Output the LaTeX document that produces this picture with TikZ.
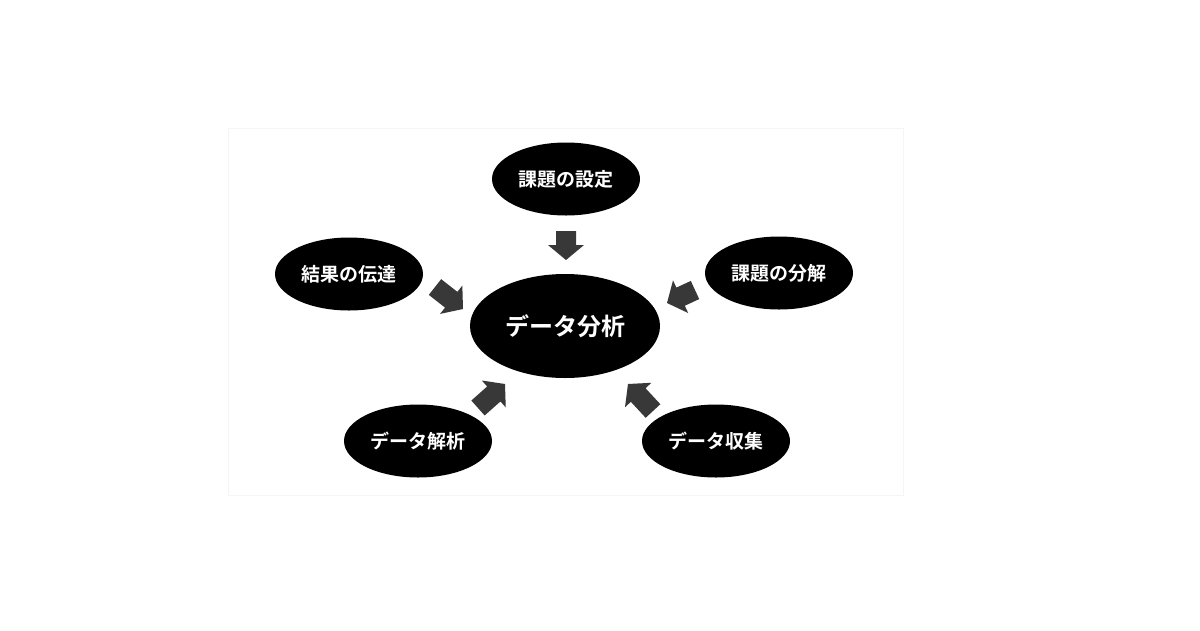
\documentclass[tikz,border=0pt]{standalone}
\usepackage{fontspec}
\newfontfamily\jpfont{Noto Sans CJK JP}[BoldFont={Noto Sans CJK JP Bold}]
\usetikzlibrary{calc,shapes.geometric}
\tikzset{
  bubble/.style={ellipse, fill=black, text=white, inner sep=0pt,
    minimum width=148pt, minimum height=73pt,
    font=\jpfont\bfseries\fontsize{19}{22}\selectfont},
  hub/.style={bubble, minimum width=190pt, minimum height=104pt,
    font=\jpfont\bfseries\fontsize{24}{28}\selectfont},
  arrowfill/.style={fill=black!78, draw=none}
}
\newcommand\blockarrow[3]{% name, tail, tip
  \coordinate (#1h) at ($(#3)!15pt!(#2)$);
  \fill[arrowfill] ($(#2)!10pt!90:(#3)$) -- ($(#1h)!10pt!-90:(#2)$)
    -- ($(#1h)!18pt!-90:(#2)$) -- (#3) -- ($(#1h)!18pt!90:(#2)$)
    -- ($(#1h)!10pt!90:(#2)$) -- ($(#2)!10pt!-90:(#3)$) -- cycle;
}
\begin{document}
\begin{tikzpicture}[x=1pt,y=-1pt]
\useasboundingbox (0,0) rectangle (1200,630);
\fill[white] (0,0) rectangle (1200,630);
\draw[draw=black!4, line width=0.8pt] (228,128) rectangle (903,495);

\node[hub] (hub) at (565,326) {データ分析};
\node[bubble] (n1) at (566,179) {課題の設定};
\node[bubble] (n2) at (779,273) {課題の分解};
\node[bubble] (n3) at (716,441) {データ収集};
\node[bubble] (n4) at (418,441) {データ解析};
\node[bubble] (n5) at (349,274) {結果の伝達};

\coordinate (a1t) at (566,231); \coordinate (a1p) at (566,260);
\coordinate (a2t) at (695,290); \coordinate (a2p) at (667,303);
\coordinate (a3t) at (653,411); \coordinate (a3p) at (628,384);
\coordinate (a4t) at (478,408); \coordinate (a4p) at (505,384);
\coordinate (a5t) at (435,287); \coordinate (a5p) at (463,309);

\blockarrow{a1}{a1t}{a1p}
\blockarrow{a2}{a2t}{a2p}
\blockarrow{a3}{a3t}{a3p}
\blockarrow{a4}{a4t}{a4p}
\blockarrow{a5}{a5t}{a5p}
\end{tikzpicture}
\end{document}
